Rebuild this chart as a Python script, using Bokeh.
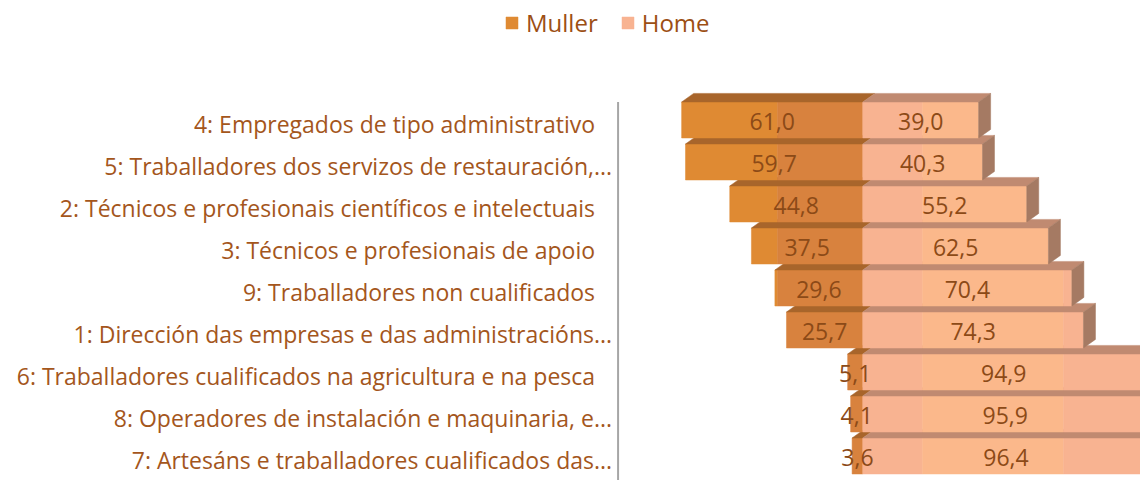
from bokeh.plotting import figure
from bokeh.models import Range1d, ColumnDataSource, Legend, LegendItem
from bokeh.core.properties import value
from bokeh.embed import file_html
from bokeh.resources import INLINE

# ---- data ----
categories = [
    "4: Empregados de tipo administrativo",
    "5: Traballadores dos servizos de restauración,...",
    "2: Técnicos e profesionais científicos e intelectuais",
    "3: Técnicos e profesionais de apoio",
    "9: Traballadores non cualificados",
    "1: Dirección das empresas e das administracións...",
    "6: Traballadores cualificados na agricultura e na pesca",
    "8: Operadores de instalación e maquinaria, e...",
    "7: Artesáns e traballadores cualificados das...",
]
muller = [61.0, 59.7, 44.8, 37.5, 29.6, 25.7, 5.1, 4.1, 3.6]
home = [39.0, 40.3, 55.2, 62.5, 70.4, 74.3, 94.9, 95.9, 96.4]
series_names = ["Muller", "Home"]

# ---- layout / style constants ----
W, H = 1140, 480
PX_X = 2.97                    # pixels per x unit
PX_Y = 42.0                    # pixels per row
X0 = -862.3 / PX_X
X1 = X0 + W / PX_X
Y1 = 119.5 / PX_Y
Y0 = Y1 - H / PX_Y
BAR_H = 36 / PX_Y              # front face height (data units)
DX = 12 / PX_X                 # 3D depth, horizontal
DY = 8.6 / PX_Y                # 3D depth, vertical
AXIS_X = -82.4
BAND_M = -28.7                 # shading seams of the original's gradient fill
BAND_H = (20.1, 67.6)

C_M_FRONT = "#df8a33"
C_M_FRONT2 = "#d8823e"
C_M_TOP = "#a8652b"
C_H_FRONT = "#f8b391"
C_H_FRONT2 = "#fbb88b"
C_H_TOP = "#c08a71"
C_H_SIDE = "#a57a63"
C_LABEL = "#a4561c"
C_VALUE = "#8c4a17"
FONT = "Open Sans"

p = figure(width=W, height=H, x_range=Range1d(X0, X1), y_range=Range1d(Y0, Y1),
           x_axis_type=None, y_axis_type=None, toolbar_location=None,
           output_backend="svg", min_border=0, outline_line_color=None)
p.grid.visible = False

ys = [-i for i in range(len(categories))]

xs_list, ys_list, colors = [], [], []
idx = {}


def add(px, py, c):
    xs_list.append(px)
    ys_list.append(py)
    colors.append(c)
    return len(colors) - 1


def front(a, b, yb, yt, c):
    if b > a:
        return add([a, b, b, a], [yb, yb, yt, yt], c)
    return None


# draw from the bottom row up so upper rows sit in front
for i in reversed(range(len(categories))):
    yc = ys[i]
    yb, yt = yc - BAR_H / 2, yc + BAR_H / 2
    m0, m1 = -muller[i], 0.0
    h0, h1 = 0.0, home[i]
    # Muller front (two shades)
    k = front(m0, min(BAND_M, m1), yb, yt, C_M_FRONT)
    front(max(m0, BAND_M), m1, yb, yt, C_M_FRONT2)
    if i == 0:
        idx["m"] = k
    add([m0, m1, m1 + DX, m0 + DX], [yt, yt, yt + DY, yt + DY], C_M_TOP)
    # Home front (banded)
    k = front(h0, min(h1, BAND_H[0]), yb, yt, C_H_FRONT)
    if i == 0:
        idx["h"] = k
    front(max(h0, BAND_H[0]), min(h1, BAND_H[1]), yb, yt, C_H_FRONT2)
    front(max(h0, BAND_H[1]), h1, yb, yt, C_H_FRONT)
    add([h0, h1, h1 + DX, h0 + DX], [yt, yt, yt + DY, yt + DY], C_H_TOP)
    add([h1, h1 + DX, h1 + DX, h1], [yb, yb + DY, yt + DY, yt], C_H_SIDE)

src = ColumnDataSource(dict(xs=xs_list, ys=ys_list, c=colors))
bars = p.patches("xs", "ys", source=src, fill_color="c", line_color="c",
                 line_width=0.5)

# vertical axis line
p.segment(x0=[AXIS_X], y0=[ys[0] + BAR_H / 2], x1=[AXIS_X], y1=[Y0],
          line_color="#a6a6a6", line_width=2)

# category labels
lab_src = ColumnDataSource(dict(
    x=[AXIS_X] * len(categories), y=ys, t=categories,
    off=[-6 if c.endswith("...") else -23 for c in categories]))
p.text(x="x", y="y", text="t", x_offset="off", y_offset=4, source=lab_src,
       text_align="right", text_baseline="middle", text_font=value(FONT),
       text_font_size="23px", text_color=C_LABEL)

# value labels
fmt = lambda v: f"{v:.1f}".replace(".", ",")
val_src = ColumnDataSource(dict(
    x=[-m / 2 for m in muller] + [h / 2 for h in home],
    y=ys + ys,
    t=[fmt(m) for m in muller] + [fmt(h) for h in home]))
p.text(x="x", y="y", text="t", source=val_src, y_offset=1,
       text_align="center", text_baseline="middle", text_font=value(FONT),
       text_font_size="23px", text_color=C_VALUE)

legend = Legend(items=[LegendItem(label=series_names[0], renderers=[bars], index=idx["m"]),
                       LegendItem(label=series_names[1], renderers=[bars], index=idx["h"])],
                orientation="horizontal", location=(504, 441),
                glyph_width=15, glyph_height=15, label_standoff=7, spacing=22,
                padding=0, margin=0, border_line_color=None, background_fill_alpha=0,
                label_text_font=FONT, label_text_font_size="24px",
                label_text_color="#9c4f14")
p.add_layout(legend)

open("out.html", "w").write(file_html(p, INLINE))
